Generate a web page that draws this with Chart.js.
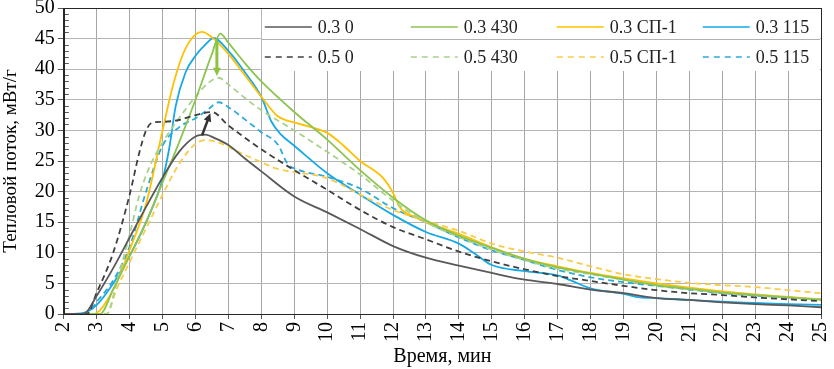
<!DOCTYPE html>
<html>
<head>
<meta charset="utf-8">
<script src="https://cdn.jsdelivr.net/npm/chart.js@4.4.1/dist/chart.umd.min.js"></script>
<style>
  body { margin: 0; background: #fff; }
  #wrap { width: 834px; height: 369px; }
  #probe { position: absolute; left: -999px; font-family: "Liberation Serif", "Times New Roman", serif; }
</style>
</head>
<body>
<div id="probe">Время 0123456789</div>
<div id="wrap"><canvas id="chart-heat"></canvas></div>
<script>
// Тепловой поток, мВт/г по времени, мин

const labels = ['0.3 0', '0.5 0', '0.3 430', '0.5 430', '0.3 СП-1', '0.5 СП-1', '0.3 115', '0.5 115'];

const t30_0 = [2, 2.6, 3, 3.5, 4, 4.5, 5, 5.5, 6, 6.3, 6.6, 7, 7.5, 8, 9, 10, 11, 12, 13, 14, 15, 16, 17, 18, 19, 20, 21, 22, 23, 24, 25];
const q30_0 = [0, 0, 3, 7.5, 12.5, 17.5, 22.3, 26.5, 29, 29.3, 28.7, 27.6, 25.4, 23.3, 19.2, 16.6, 13.9, 11.1, 9.2, 7.9, 6.7, 5.6, 4.9, 4, 3.4, 2.6, 2.3, 1.9, 1.6, 1.4, 1.1];

const t50_0 = [2, 2.7, 3, 3.5, 4, 4.3, 4.5, 4.7, 5, 5.5, 6, 6.5, 7, 7.5, 8, 9, 10, 11, 12, 13, 14, 15, 16, 17, 18, 19, 20, 21, 22, 23, 24, 25];
const q50_0 = [0, 0, 3.5, 10, 19.5, 26.5, 30, 31.3, 31.4, 31.7, 32.5, 33, 30.8, 28.8, 26.9, 23.5, 20.3, 17, 14.2, 12.2, 10.2, 8.6, 7.3, 6.2, 5.4, 4.6, 3.9, 3.4, 3.1, 2.7, 2.4, 2.1];

const t30_430 = [2, 3.1, 3.5, 4, 4.5, 5, 5.5, 6, 6.5, 6.75, 7, 7.5, 8, 9, 10, 11, 12, 13, 14, 15, 16, 17, 18, 19, 20, 21, 22, 23, 24, 25];
const q30_430 = [0, 0, 4, 9.5, 15, 21.5, 28, 35, 42.5, 45.8, 44.3, 41, 38, 33, 28.5, 23.5, 19, 15.3, 12.8, 10.8, 9, 7.6, 6.6, 5.6, 4.7, 4.1, 3.5, 3.1, 2.7, 2.3];

const t50_430 = [2, 3.3, 3.6, 4, 4.3, 4.6, 5, 5.5, 6, 6.4, 6.7, 7, 7.5, 8, 9, 10, 11, 12, 13, 14, 15, 16, 17, 18, 19, 20, 21, 22, 23, 24, 25];
const q50_430 = [0, 0, 5, 13, 19.5, 24, 28, 32, 35.5, 37.8, 38.6, 37.5, 35.3, 33.3, 30, 26.5, 22.8, 18.5, 15, 12.6, 10.5, 8.8, 7.4, 6.5, 5.6, 4.7, 4.1, 3.5, 3.1, 2.7, 2.4];

const t30_sp = [2, 2.9, 3.5, 4, 4.5, 5, 5.3, 5.6, 5.9, 6.2, 6.5, 7, 7.5, 8, 8.5, 9, 10, 10.5, 11, 11.7, 12, 12.2, 12.4, 12.7, 13, 14, 15, 16, 17, 18, 19, 20, 21, 22, 23, 24, 25];
const q30_sp = [0, 0, 4, 10.5, 18, 30, 37, 42.2, 45.1, 46.1, 45.2, 42.5, 39, 35.5, 32.3, 31.3, 29.6, 27.5, 25, 22.2, 19.8, 17.5, 16.5, 15.8, 15, 13.1, 10.9, 9, 7.8, 6.7, 5.8, 5, 4.3, 3.7, 3.2, 2.8, 2.4];

const t50_sp = [2, 3.3, 3.6, 4, 4.5, 5, 5.5, 6, 6.3, 6.6, 7, 7.5, 8, 8.5, 9, 10, 11, 12, 13, 14, 15, 16, 17, 18, 19, 20, 21, 22, 23, 24, 25];
const q50_sp = [0, 0, 4, 8.5, 14, 19.5, 24.5, 27.8, 28.4, 28.2, 27.3, 26, 24.8, 23.7, 23.2, 22.2, 19.5, 17, 15.2, 13.6, 11.5, 10.2, 9.2, 7.8, 6.5, 5.7, 5.1, 4.7, 4.4, 3.9, 3.4];

const t30_115 = [2, 2.6, 3, 3.5, 4, 4.5, 5, 5.2, 5.4, 5.7, 6, 6.3, 6.55, 7, 7.5, 8, 8.3, 8.6, 9, 10, 11, 12, 13, 14, 14.5, 15, 16, 17, 17.4, 18, 19, 19.5, 20, 21, 22, 23, 24, 25];
const q30_115 = [0, 0.2, 1.5, 5, 9.5, 15, 22, 27, 34, 39.5, 42.2, 44, 45.1, 43, 39.5, 35.5, 31.5, 29.3, 27.5, 23, 19.5, 16.2, 13.4, 11.5, 9.8, 8, 7, 6.3, 5.5, 4.2, 3.3, 2.7, 2.6, 2.3, 2, 1.8, 1.6, 1.5];

const t50_115 = [2, 2.7, 3, 3.5, 4, 4.5, 5, 5.5, 6, 6.4, 6.7, 7, 7.5, 8, 8.5, 8.8, 9, 10, 11, 12, 13, 14, 15, 16, 17, 18, 19, 20, 21, 22, 23, 24, 25];
const q50_115 = [0, 0, 2, 5.5, 11, 20, 27.5, 30.5, 32, 33.5, 34.6, 33.8, 31.8, 29.7, 27.7, 24.5, 23.8, 22.4, 20.5, 17.3, 15, 12.5, 10.4, 8.8, 7.2, 6, 5.2, 4.6, 4, 3.4, 3, 2.7, 2.4];

// стрелки: [x1, y1, x2, y2]
const arrowDark = [6.2, 29.2, 6.45, 32.8];
const arrowGreen = [6.65, 44.6, 6.65, 38.9];

const serif = "'Liberation Serif', 'Times New Roman', serif";
Chart.defaults.font.family = serif;
Chart.defaults.color = '#000';

function pts(t, q) {
    return t.map((x, i) => ({ x: x, y: q[i] }));
}

function series(label, t, q, color, dashed) {
    return {
        label: label,
        data: pts(t, q),
        borderColor: color,
        backgroundColor: color,
        borderWidth: 1.8,
        borderDash: dashed ? [6, 4] : [],
        pointRadius: 0,
        fill: false,
        cubicInterpolationMode: 'monotone'
    };
}

// легенда в рамке внутри поля графика
const boxLegend = {
    id: 'boxLegend',
    afterDraw(chart) {
        const { ctx, chartArea, scales } = chart;
        const left = chartArea.left + 198;
        const top = chartArea.top + 1;
        const right = chartArea.right - 1;
        const bottom = chartArea.top + 63;
        ctx.save();
        ctx.fillStyle = '#fff';
        ctx.fillRect(left, top, right - left, bottom - top);
        // горизонтальная линия сетки 45 проходит через легенду
        const y45 = Math.round(scales.y.getPixelForValue(45)) + 0.5;
        ctx.strokeStyle = '#b0b0b0';
        ctx.lineWidth = 1;
        ctx.beginPath();
        ctx.moveTo(left, y45);
        ctx.lineTo(right, y45);
        ctx.stroke();

        ctx.font = '18px ' + serif;
        ctx.textBaseline = 'middle';
        ctx.textAlign = 'left';
        chart.data.datasets.forEach((ds, i) => {
            const col = Math.floor(i / 2);
            const row = i % 2;
            const x = left + 3 + col * 146;
            const y = top + 18 + row * 30;
            ctx.strokeStyle = ds.borderColor;
            ctx.lineWidth = 1.5;
            ctx.setLineDash(ds.borderDash.length ? [6, 5] : []);
            ctx.beginPath();
            ctx.moveTo(x, y);
            ctx.lineTo(x + 47, y);
            ctx.stroke();
            ctx.setLineDash([]);
            ctx.fillStyle = '#222';
            ctx.fillText(ds.label, x + 53, y + 1);
        });

        // рамка поля графика
        ctx.strokeStyle = '#262626';
        ctx.lineWidth = 1;
        ctx.strokeRect(Math.round(chartArea.left) + 0.5, Math.round(chartArea.top) + 0.5,
            Math.round(chartArea.right - chartArea.left), Math.round(chartArea.bottom - chartArea.top));
        ctx.restore();
    }
};

// мелкие деления по оси Y и стрелки
const extras = {
    id: 'extras',
    afterDatasetsDraw(chart) {
        const { ctx, chartArea, scales } = chart;
        ctx.save();
        ctx.strokeStyle = '#595959';
        ctx.lineWidth = 1;
        for (let v = 1; v < 50; v++) {
            if (v % 5 === 0) continue;
            const y = Math.round(scales.y.getPixelForValue(v)) + 0.5;
            ctx.beginPath();
            ctx.moveTo(chartArea.left, y);
            ctx.lineTo(chartArea.left + 5, y);
            ctx.stroke();
        }
        drawArrow(ctx, scales, arrowDark, '#333333', 2.5);
        drawArrow(ctx, scales, arrowGreen, '#8cc43f', 3);
        ctx.restore();
    }
};

function drawArrow(ctx, scales, a, color, w) {
    const x1 = scales.x.getPixelForValue(a[0]);
    const y1 = scales.y.getPixelForValue(a[1]);
    const x2 = scales.x.getPixelForValue(a[2]);
    const y2 = scales.y.getPixelForValue(a[3]);
    const ang = Math.atan2(y2 - y1, x2 - x1);
    const head = 9;
    ctx.strokeStyle = color;
    ctx.fillStyle = color;
    ctx.lineWidth = w;
    ctx.beginPath();
    ctx.moveTo(x1, y1);
    ctx.lineTo(x2 - Math.cos(ang) * head * 0.8, y2 - Math.sin(ang) * head * 0.8);
    ctx.stroke();
    ctx.beginPath();
    ctx.moveTo(x2, y2);
    ctx.lineTo(x2 - head * Math.cos(ang - 0.45), y2 - head * Math.sin(ang - 0.45));
    ctx.lineTo(x2 - head * Math.cos(ang + 0.45), y2 - head * Math.sin(ang + 0.45));
    ctx.closePath();
    ctx.fill();
}

function build() {
    new Chart(document.getElementById('chart-heat'), {
        type: 'line',
        data: {
            datasets: [
                series(labels[0], t30_0, q30_0, '#595959', false),
                series(labels[1], t50_0, q50_0, '#404040', true),
                series(labels[2], t30_430, q30_430, '#8dc450', false),
                series(labels[3], t50_430, q50_430, '#a9d18e', true),
                series(labels[4], t30_sp, q30_sp, '#ffc000', false),
                series(labels[5], t50_sp, q50_sp, '#f8cb4a', true),
                series(labels[6], t30_115, q30_115, '#16a9e6', false),
                series(labels[7], t50_115, q50_115, '#2eaad8', true)
            ]
        },
        options: {
            responsive: true,
            maintainAspectRatio: false,
            animation: false,
            devicePixelRatio: 1,
            layout: {
                autoPadding: false,
                padding: { left: 0, top: 1, right: 3, bottom: 0 }
            },
            plugins: {
                legend: { display: false },
                tooltip: { enabled: false }
            },
            scales: {
                x: {
                    type: 'linear',
                    min: 2,
                    max: 25,
                    ticks: {
                        stepSize: 1,
                        minRotation: 90,
                        maxRotation: 90,
                        padding: 3,
                        color: '#000',
                        font: { family: serif, size: 20, lineHeight: 0.5 }
                    },
                    grid: {
                        color: '#a6a6a6',
                        tickLength: 5,
                        tickColor: '#595959'
                    },
                    border: { color: '#262626' },
                    title: {
                        display: true,
                        text: 'Время, мин',
                        color: '#000',
                        font: { family: serif, size: 20 },
                        padding: { top: 0, bottom: 0 }
                    }
                },
                y: {
                    min: 0,
                    max: 50,
                    ticks: {
                        stepSize: 5,
                        padding: 3,
                        color: '#000',
                        font: { family: serif, size: 20, lineHeight: 0.5 }
                    },
                    grid: {
                        color: '#b4b4b4',
                        tickLength: 6,
                        tickColor: '#595959'
                    },
                    border: { color: '#262626' },
                    title: {
                        display: true,
                        text: 'Тепловой поток, мВт/г',
                        color: '#000',
                        font: { family: serif, size: 19 },
                        padding: { top: 0, bottom: 9 }
                    }
                }
            }
        },
        plugins: [extras, boxLegend]
    });
}

document.fonts.load("20px 'Liberation Serif'").then(build, build);
</script>
</body>
</html>
